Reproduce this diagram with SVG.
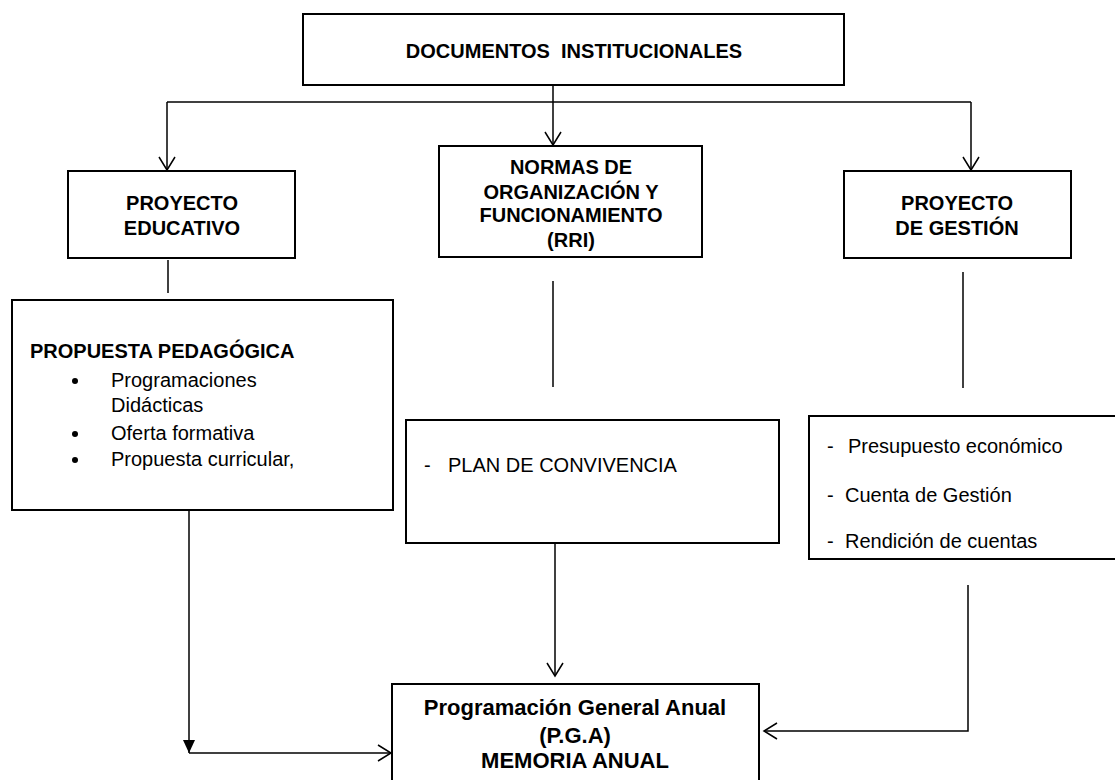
<svg xmlns="http://www.w3.org/2000/svg" width="1115" height="780" viewBox="0 0 1115 780">
<style>
.box{fill:#fff;stroke:#000;stroke-width:2}
.ln{fill:none;stroke:#000;stroke-width:1.5}
.b{font-family:"Liberation Sans",Arial,sans-serif;font-weight:bold;font-size:20px;fill:#000;text-anchor:middle}
.r{font-family:"Liberation Sans",Arial,sans-serif;font-size:20px;fill:#000}
.pga{font-family:"Liberation Sans",Arial,sans-serif;font-weight:bold;font-size:22px;fill:#000;text-anchor:middle}
</style>
<defs>
<marker id="open" markerUnits="userSpaceOnUse" markerWidth="20" markerHeight="20" viewBox="-14 -10 16 20" refX="0" refY="0" orient="auto">
<path d="M-13,-8 L0,0 L-13,8" fill="none" stroke="#000" stroke-width="1.5"/>
</marker>
<marker id="filled" markerUnits="userSpaceOnUse" markerWidth="20" markerHeight="20" viewBox="-14 -10 16 20" refX="0" refY="0" orient="auto">
<path d="M-13,-6 L0,0 L-13,6 Z" fill="#000"/>
</marker>
</defs>
<rect width="1115" height="780" fill="#fff"/>
<g id="connectors">
<line class="ln" x1="167" y1="102" x2="971" y2="102"/>
<line class="ln" x1="553" y1="85" x2="553" y2="145" marker-end="url(#open)"/>
<line class="ln" x1="167" y1="102" x2="167" y2="170" marker-end="url(#open)"/>
<line class="ln" x1="971" y1="102" x2="971" y2="170" marker-end="url(#open)"/>
<line class="ln" x1="168" y1="260" x2="168" y2="293"/>
<line class="ln" x1="553" y1="281" x2="553" y2="387"/>
<line class="ln" x1="963" y1="272" x2="963" y2="388"/>
<line class="ln" x1="189" y1="510" x2="189" y2="753" marker-end="url(#filled)"/>
<line class="ln" x1="189" y1="753" x2="391" y2="753" marker-end="url(#open)"/>
<line class="ln" x1="555" y1="543" x2="555" y2="676" marker-end="url(#open)"/>
<polyline class="ln" points="968,585 968,731 764,731" marker-end="url(#open)"/>
</g>
<g id="documentos">
<rect class="box" x="303" y="14" width="541" height="71"/>
<text class="b" x="574" y="58" xml:space="preserve">DOCUMENTOS  INSTITUCIONALES</text>
</g>
<g id="proyecto-educativo">
<rect class="box" x="68" y="171" width="227" height="87"/>
<text class="b" x="182" y="210">PROYECTO</text>
<text class="b" x="182" y="235">EDUCATIVO</text>
</g>
<g id="normas">
<rect class="box" x="439" y="146" width="263" height="111"/>
<text class="b" x="571" y="174">NORMAS DE</text>
<text class="b" x="571" y="199">ORGANIZACIÓN Y</text>
<text class="b" x="571" y="222">FUNCIONAMIENTO</text>
<text class="b" x="571" y="247">(RRI)</text>
</g>
<g id="proyecto-gestion">
<rect class="box" x="844" y="171" width="227" height="87"/>
<text class="b" x="957" y="210">PROYECTO</text>
<text class="b" x="957" y="235">DE GESTIÓN</text>
</g>
<g id="propuesta">
<rect class="box" x="12" y="300" width="381" height="210"/>
<text class="b" x="30" y="358" style="text-anchor:start">PROPUESTA PEDAGÓGICA</text>
<circle cx="75" cy="381" r="3"/>
<circle cx="75" cy="434" r="3"/>
<circle cx="75" cy="460" r="3"/>
<text class="r" x="111" y="387">Programaciones</text>
<text class="r" x="111" y="412">Didácticas</text>
<text class="r" x="111" y="440">Oferta formativa</text>
<text class="r" x="111" y="466">Propuesta curricular,</text>
</g>
<g id="plan">
<rect class="box" x="406" y="420" width="373" height="123"/>
<text class="r" x="424" y="472">-</text>
<text class="r" x="448" y="472">PLAN DE CONVIVENCIA</text>
</g>
<g id="gestion-list">
<rect class="box" x="809" y="416" width="320" height="143"/>
<text class="r" x="827" y="453">-</text>
<text class="r" x="848" y="453">Presupuesto económico</text>
<text class="r" x="827" y="502">-</text>
<text class="r" x="845" y="502">Cuenta de Gestión</text>
<text class="r" x="827" y="548">-</text>
<text class="r" x="845" y="548">Rendición de cuentas</text>
</g>
<g id="pga">
<rect class="box" x="392" y="684" width="367" height="110"/>
<text class="pga" x="575" y="715">Programación General Anual</text>
<text class="pga" x="575" y="743">(P.G.A)</text>
<text class="pga" x="575" y="768">MEMORIA ANUAL</text>
</g>
</svg>
